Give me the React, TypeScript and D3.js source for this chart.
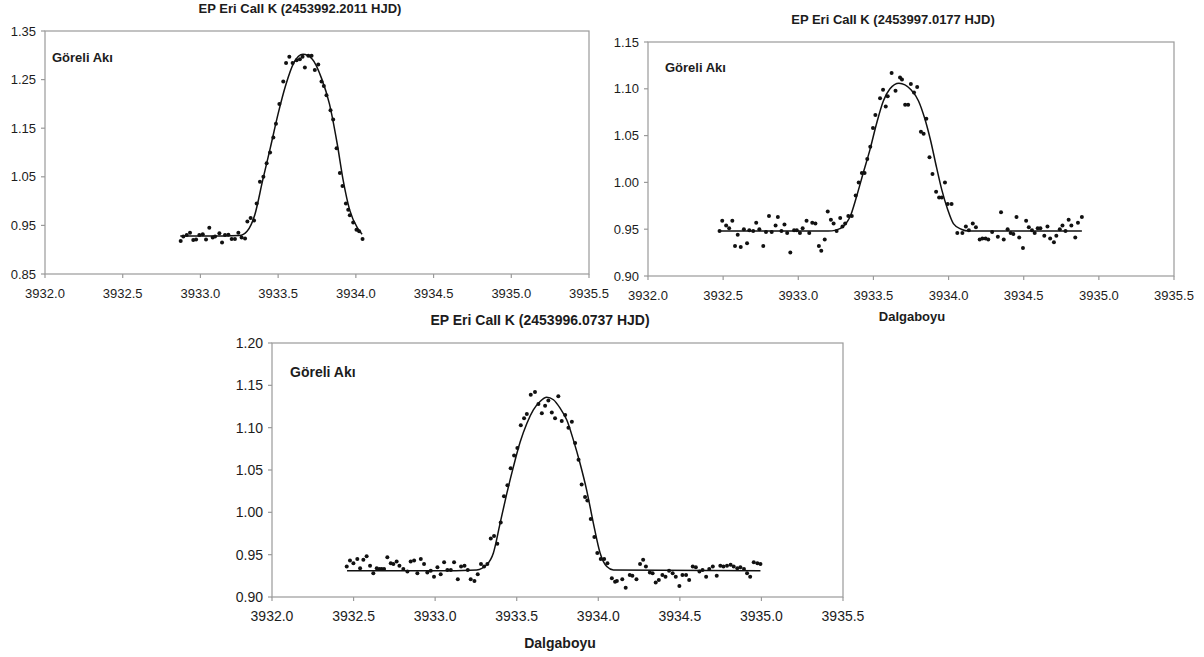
import React from 'react';
import * as d3 from 'd3';

// wavelength ticks shared by all three panels
const xTicks = [3932.0, 3932.5, 3933.0, 3933.5, 3934.0, 3934.5, 3935.0, 3935.5];

// panel 1 : EP Eri Ca II K (2453992.2011 HJD)
const p1Ticks = [0.85, 0.95, 1.05, 1.15, 1.25, 1.35];
const p1Obs = [
  [3932.873, 0.918], [3932.890, 0.927], [3932.912, 0.930], [3932.933, 0.935], [3932.954, 0.920],
  [3932.972, 0.921], [3932.993, 0.930], [3933.015, 0.932], [3933.036, 0.921], [3933.057, 0.945],
  [3933.079, 0.925], [3933.094, 0.927], [3933.122, 0.934], [3933.139, 0.915], [3933.158, 0.930],
  [3933.180, 0.931], [3933.201, 0.922], [3933.222, 0.922], [3933.244, 0.935], [3933.265, 0.925],
  [3933.287, 0.923], [3933.302, 0.958], [3933.323, 0.965], [3933.345, 0.960], [3933.362, 0.995],
  [3933.383, 1.040], [3933.405, 1.050], [3933.426, 1.078], [3933.448, 1.100], [3933.469, 1.131],
  [3933.486, 1.159], [3933.508, 1.200], [3933.533, 1.246], [3933.551, 1.284], [3933.572, 1.297],
  [3933.593, 1.284], [3933.619, 1.290], [3933.640, 1.292], [3933.657, 1.297], [3933.672, 1.275],
  [3933.694, 1.299], [3933.715, 1.299], [3933.736, 1.270], [3933.758, 1.281], [3933.779, 1.246],
  [3933.794, 1.237], [3933.811, 1.218], [3933.837, 1.187], [3933.854, 1.168], [3933.876, 1.109],
  [3933.897, 1.058], [3933.914, 1.031], [3933.936, 0.995], [3933.951, 0.982], [3933.961, 0.971],
  [3933.983, 0.956], [3934.004, 0.941], [3934.021, 0.938], [3934.043, 0.922],
];
const p1Fit = [
  [3932.87, 0.928], [3933.00, 0.928], [3933.15, 0.928], [3933.25, 0.929], [3933.30, 0.938],
  [3933.35, 0.972], [3933.40, 1.042], [3933.45, 1.110], [3933.50, 1.180], [3933.55, 1.240],
  [3933.60, 1.284], [3933.66, 1.302], [3933.72, 1.292], [3933.78, 1.252], [3933.83, 1.200],
  [3933.88, 1.118], [3933.92, 1.040], [3933.96, 0.982], [3934.01, 0.945], [3934.04, 0.932],
];

// panel 2 : EP Eri Ca II K (2453997.0177 HJD)
const p2Ticks = [0.90, 0.95, 1.00, 1.05, 1.10, 1.15];
const p2Obs = [
  [3932.476, 0.948], [3932.494, 0.959], [3932.520, 0.954], [3932.540, 0.951], [3932.561, 0.959],
  [3932.579, 0.932], [3932.597, 0.944], [3932.617, 0.931], [3932.638, 0.950], [3932.659, 0.935],
  [3932.674, 0.949], [3932.700, 0.948], [3932.720, 0.957], [3932.741, 0.950], [3932.767, 0.932],
  [3932.785, 0.947], [3932.805, 0.964], [3932.823, 0.947], [3932.849, 0.954], [3932.864, 0.963],
  [3932.888, 0.948], [3932.908, 0.955], [3932.926, 0.946], [3932.947, 0.925], [3932.972, 0.949],
  [3932.990, 0.949], [3933.011, 0.946], [3933.029, 0.951], [3933.055, 0.959], [3933.073, 0.946],
  [3933.093, 0.957], [3933.114, 0.956], [3933.137, 0.932], [3933.153, 0.927], [3933.176, 0.939],
  [3933.196, 0.969], [3933.217, 0.960], [3933.235, 0.956], [3933.255, 0.948], [3933.279, 0.962],
  [3933.294, 0.953], [3933.312, 0.956], [3933.333, 0.964], [3933.356, 0.964], [3933.382, 0.986],
  [3933.402, 1.000], [3933.423, 1.010], [3933.441, 1.010], [3933.459, 1.025], [3933.479, 1.038],
  [3933.497, 1.058], [3933.513, 1.072], [3933.544, 1.090], [3933.564, 1.099], [3933.582, 1.081],
  [3933.595, 1.092], [3933.621, 1.117], [3933.647, 1.098], [3933.677, 1.112], [3933.690, 1.110],
  [3933.711, 1.083], [3933.731, 1.083], [3933.749, 1.105], [3933.770, 1.096], [3933.791, 1.102],
  [3933.816, 1.054], [3933.834, 1.052], [3933.852, 1.068], [3933.873, 1.027], [3933.893, 1.009],
  [3933.917, 0.990], [3933.937, 0.984], [3933.955, 0.984], [3933.976, 1.000], [3933.994, 0.977],
  [3934.020, 0.977], [3934.058, 0.946], [3934.092, 0.946], [3934.115, 0.953], [3934.135, 0.949],
  [3934.161, 0.956], [3934.182, 0.952], [3934.207, 0.939], [3934.225, 0.940], [3934.246, 0.940],
  [3934.264, 0.939], [3934.290, 0.947], [3934.328, 0.942], [3934.349, 0.968], [3934.367, 0.939],
  [3934.393, 0.950], [3934.413, 0.946], [3934.431, 0.945], [3934.452, 0.963], [3934.470, 0.941],
  [3934.495, 0.930], [3934.516, 0.959], [3934.534, 0.952], [3934.555, 0.949], [3934.573, 0.946],
  [3934.593, 0.951], [3934.611, 0.951], [3934.637, 0.943], [3934.658, 0.953], [3934.676, 0.940],
  [3934.701, 0.936], [3934.717, 0.943], [3934.740, 0.950], [3934.758, 0.954], [3934.778, 0.948],
  [3934.799, 0.960], [3934.817, 0.954], [3934.843, 0.941], [3934.861, 0.957], [3934.887, 0.963],
];
const p2Fit = [
  [3932.48, 0.948], [3933.00, 0.948], [3933.20, 0.948], [3933.25, 0.949], [3933.30, 0.953],
  [3933.344, 0.963], [3933.388, 0.985], [3933.432, 1.010], [3933.477, 1.035], [3933.521, 1.063],
  [3933.566, 1.087], [3933.61, 1.100], [3933.67, 1.106], [3933.75, 1.099], [3933.80, 1.087],
  [3933.84, 1.069], [3933.88, 1.045], [3933.92, 1.016], [3933.955, 0.992], [3933.994, 0.971],
  [3934.032, 0.956], [3934.084, 0.950], [3934.135, 0.948], [3934.887, 0.948],
];

// panel 3 : EP Eri Ca II K (2453996.0737 HJD)
const p3Ticks = [0.90, 0.95, 1.00, 1.05, 1.10, 1.15, 1.20];
const p3Obs = [
  [3932.458, 0.936], [3932.478, 0.943], [3932.499, 0.940], [3932.523, 0.945], [3932.540, 0.934],
  [3932.560, 0.944], [3932.580, 0.948], [3932.601, 0.937], [3932.621, 0.928], [3932.642, 0.934],
  [3932.658, 0.933], [3932.672, 0.933], [3932.687, 0.933], [3932.707, 0.947], [3932.728, 0.940],
  [3932.744, 0.939], [3932.764, 0.942], [3932.781, 0.937], [3932.805, 0.933], [3932.830, 0.930],
  [3932.850, 0.942], [3932.871, 0.943], [3932.891, 0.928], [3932.912, 0.945], [3932.932, 0.939],
  [3932.952, 0.929], [3932.973, 0.931], [3932.993, 0.924], [3933.014, 0.935], [3933.034, 0.927],
  [3933.055, 0.941], [3933.075, 0.932], [3933.096, 0.932], [3933.116, 0.941], [3933.139, 0.921],
  [3933.159, 0.936], [3933.180, 0.937], [3933.200, 0.932], [3933.218, 0.921], [3933.241, 0.919],
  [3933.261, 0.927], [3933.281, 0.939], [3933.300, 0.936], [3933.320, 0.939], [3933.341, 0.969],
  [3933.361, 0.972], [3933.381, 0.963], [3933.402, 0.988], [3933.422, 1.019], [3933.443, 1.032],
  [3933.463, 1.052], [3933.484, 1.067], [3933.504, 1.076], [3933.525, 1.103], [3933.545, 1.111],
  [3933.562, 1.116], [3933.586, 1.139], [3933.612, 1.142], [3933.633, 1.128], [3933.654, 1.117],
  [3933.674, 1.126], [3933.694, 1.132], [3933.715, 1.118], [3933.735, 1.111], [3933.755, 1.137],
  [3933.776, 1.108], [3933.797, 1.115], [3933.817, 1.100], [3933.838, 1.107], [3933.858, 1.082],
  [3933.879, 1.062], [3933.898, 1.033], [3933.919, 1.018], [3933.933, 1.014], [3933.954, 0.992],
  [3933.976, 0.971], [3933.994, 0.952], [3934.015, 0.945], [3934.036, 0.945], [3934.056, 0.940],
  [3934.083, 0.922], [3934.103, 0.918], [3934.114, 0.919], [3934.147, 0.921], [3934.168, 0.911],
  [3934.193, 0.926], [3934.209, 0.925], [3934.234, 0.921], [3934.256, 0.939], [3934.275, 0.944],
  [3934.292, 0.936], [3934.316, 0.929], [3934.333, 0.928], [3934.352, 0.917], [3934.371, 0.920],
  [3934.393, 0.926], [3934.412, 0.924], [3934.434, 0.931], [3934.456, 0.928], [3934.475, 0.924],
  [3934.497, 0.913], [3934.516, 0.926], [3934.538, 0.926], [3934.557, 0.920], [3934.579, 0.936],
  [3934.598, 0.935], [3934.620, 0.930], [3934.639, 0.932], [3934.661, 0.924], [3934.680, 0.933],
  [3934.702, 0.936], [3934.726, 0.925], [3934.748, 0.937], [3934.767, 0.936], [3934.789, 0.937],
  [3934.811, 0.938], [3934.830, 0.936], [3934.852, 0.934], [3934.871, 0.935], [3934.893, 0.933],
  [3934.912, 0.928], [3934.931, 0.924], [3934.953, 0.941], [3934.975, 0.940], [3934.994, 0.939],
];
const p3Fit = [
  [3932.46, 0.931], [3933.00, 0.931], [3933.255, 0.932], [3933.316, 0.938], [3933.357, 0.952],
  [3933.398, 0.987], [3933.439, 1.022], [3933.480, 1.054], [3933.521, 1.083], [3933.562, 1.105],
  [3933.602, 1.121], [3933.643, 1.131], [3933.684, 1.136], [3933.725, 1.133], [3933.766, 1.123],
  [3933.807, 1.109], [3933.848, 1.085], [3933.888, 1.058], [3933.929, 1.026], [3933.970, 0.987],
  [3934.011, 0.952], [3934.052, 0.936], [3934.093, 0.932], [3934.994, 0.931],
];

const titles = [
  'EP Eri CaII K (2453992.2011 HJD)',
  'EP Eri CaII K (2453997.0177 HJD)',
  'EP Eri CaII K (2453996.0737 HJD)',
];
const yLabel = 'Göreli Akı';
const xLabel = 'Dalgaboyu';

const FONT = 'Liberation Sans, Arial, Helvetica, sans-serif';
const AXIS = '#9a9a9a';
const INK = '#1c1c1c';

function Panel({ box, yTicks, obs, fit, title, titleAt, labelAt, xLabelAt, fs, tfs }) {
  const x = d3.scaleLinear().domain([3932, 3935.5]).range([box.left, box.right]);
  const y = d3.scaleLinear().domain([yTicks[0], yTicks[yTicks.length - 1]]).range([box.bottom, box.top]);
  const line = d3.line().x((d) => x(d[0])).y((d) => y(d[1])).curve(d3.curveMonotoneX);
  const fy = d3.format('.2f');
  const fx = d3.format('.1f');

  return (
    <g fontFamily={FONT}>
      <text x={titleAt[0]} y={titleAt[1]} textAnchor="middle" fontSize={tfs} fontWeight="bold" fill={INK}>{title}</text>
      <rect x={box.left} y={box.top} width={box.right - box.left} height={box.bottom - box.top}
        fill="none" stroke={AXIS} strokeWidth={1.2} />
      {yTicks.map((t) => (
        <g key={'y' + t}>
          <line x1={box.left - 4} x2={box.left} y1={y(t)} y2={y(t)} stroke={AXIS} strokeWidth={1.2} />
          <text x={box.left - 9} y={y(t)} dy="0.35em" textAnchor="end" fontSize={fs} fill={INK}>{fy(t)}</text>
        </g>
      ))}
      {xTicks.map((t) => (
        <g key={'x' + t}>
          <line x1={x(t)} x2={x(t)} y1={box.bottom} y2={box.bottom + 4} stroke={AXIS} strokeWidth={1.2} />
          <text x={x(t)} y={box.bottom + 19} dy="0.35em" textAnchor="middle" fontSize={fs} fill={INK}>{fx(t)}</text>
        </g>
      ))}
      <text x={labelAt[0]} y={labelAt[1]} dy="0.35em" fontSize={tfs} fontWeight="bold" fill={INK}>{yLabel}</text>
      <text x={xLabelAt[0]} y={xLabelAt[1]} dy="0.35em" textAnchor="middle" fontSize={tfs} fontWeight="bold" fill={INK}>{xLabel}</text>
      <path d={line(fit)} fill="none" stroke="#111" strokeWidth={1.5} />
      {obs.map((d, i) => (
        <circle key={i} cx={x(d[0])} cy={y(d[1])} r={2} fill="#111" />
      ))}
    </g>
  );
}

export default function App() {
  return (
    <svg width={1204} height={657} style={{ position: 'absolute', left: 0, top: 0, background: '#fff' }}>
      <rect x={0} y={0} width={1204} height={657} fill="#fff" />
      <Panel box={{ left: 45, right: 589, top: 31, bottom: 274 }} yTicks={p1Ticks} obs={p1Obs} fit={p1Fit}
        title={titles[0]} titleAt={[300, 13]} labelAt={[52, 57]} xLabelAt={[317, 318]} fs={13} tfs={13} />
      <Panel box={{ left: 648, right: 1174, top: 42, bottom: 276 }} yTicks={p2Ticks} obs={p2Obs} fit={p2Fit}
        title={titles[1]} titleAt={[893, 24]} labelAt={[665, 67]} xLabelAt={[912, 316]} fs={13} tfs={13} />
      <rect x={205} y={313} width={672} height={344} fill="#fff" />
      <Panel box={{ left: 272, right: 843, top: 343, bottom: 597 }} yTicks={p3Ticks} obs={p3Obs} fit={p3Fit}
        title={titles[2]} titleAt={[540, 325]} labelAt={[290, 372]} xLabelAt={[560, 643]} fs={14} tfs={14} />
    </svg>
  );
}
